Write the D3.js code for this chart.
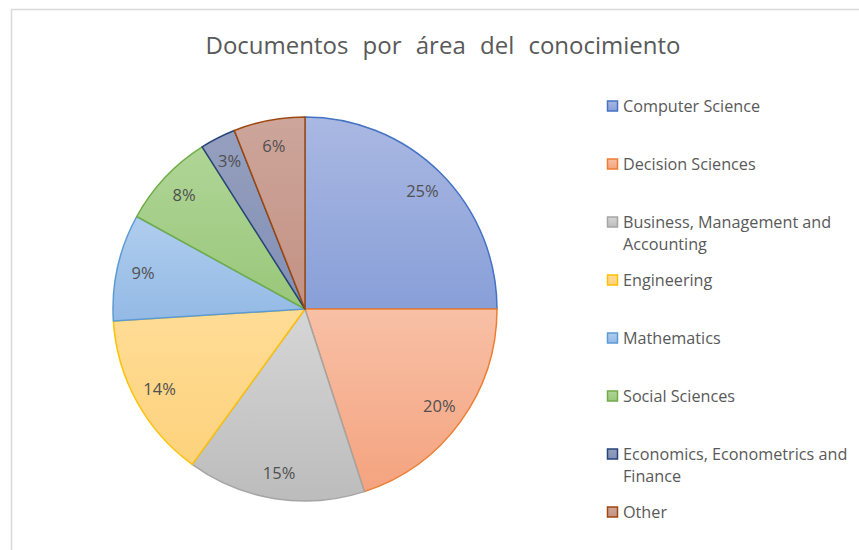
<!DOCTYPE html>
<html>
<head>
<meta charset="utf-8">
<script src="https://cdn.jsdelivr.net/npm/d3@7"></script>
<style>
  html, body { margin: 0; padding: 0; background: #fff; }
  svg { display: block; }
</style>
</head>
<body>
<div id="chart"></div>
<script>
const title = 'Documentos por área del conocimiento'
const categories = [
  'Computer Science',
  'Decision Sciences',
  'Business, Management and Accounting',
  'Engineering',
  'Mathematics',
  'Social Sciences',
  'Economics, Econometrics and Finance',
  'Other',
]
const legendLines = [
  ['Computer Science'],
  ['Decision Sciences'],
  ['Business, Management and', 'Accounting'],
  ['Engineering'],
  ['Mathematics'],
  ['Social Sciences'],
  ['Economics, Econometrics and', 'Finance'],
  ['Other'],
]
const shares = [25, 20, 15, 14, 9, 8, 3, 6]

const strokeColors = ['#4472c4', '#ed7d31', '#a5a5a5', '#ffc000', '#5b9bd5', '#70ad47', '#264478', '#9e480e']
const topColors = ['#aab8e2', '#f8c0a6', '#d6d6d6', '#ffdc96', '#b0cdee', '#b0d597', '#969fbe', '#cda59b']
const bottomColors = ['#889fd8', '#f4a37f', '#bcbcbc', '#fdd27c', '#93bae5', '#99c77a', '#8190b6', '#c39283']

const width = 859
const height = 550
const cx = 305
const cy = 309
const radius = 192
const labelRadius = 166
const fontFamily = '"Open Sans", "Noto Sans", sans-serif'

const svg = d3
  .select('#chart')
  .append('svg')
  .attr('width', width)
  .attr('height', height)
  .attr('viewBox', `0 0 ${width} ${height}`)

// chart area border (runs off the right and bottom edges)
svg
  .append('rect')
  .attr('x', 11.5)
  .attr('y', 9.5)
  .attr('width', width + 20)
  .attr('height', height + 20)
  .attr('fill', '#fff')
  .attr('stroke', '#d9d9d9')
  .attr('stroke-width', 1.5)

const defs = svg.append('defs')
categories.forEach((cat, i) => {
  const grad = defs
    .append('linearGradient')
    .attr('id', `grad-${i}`)
    .attr('x1', 0)
    .attr('y1', 0)
    .attr('x2', 0)
    .attr('y2', 1)
  grad.append('stop').attr('offset', '0%').attr('stop-color', topColors[i])
  grad.append('stop').attr('offset', '100%').attr('stop-color', bottomColors[i])
})

svg
  .append('text')
  .attr('x', 443)
  .attr('y', 54)
  .attr('text-anchor', 'middle')
  .attr('font-family', fontFamily)
  .attr('font-size', 24)
  .attr('word-spacing', 8)
  .attr('fill', '#595959')
  .text(title)

const pie = d3.pie().sort(null).value((d) => d.value)
const arcs = pie(categories.map((c, i) => ({ cat: c, value: shares[i], i })))
const arc = d3.arc().innerRadius(0).outerRadius(radius)
const labelArc = d3.arc().innerRadius(labelRadius).outerRadius(labelRadius)
const total = d3.sum(shares)

const g = svg.append('g').attr('transform', `translate(${cx}, ${cy})`)

g.selectAll('path.slice')
  .data(arcs)
  .join('path')
  .attr('class', 'slice')
  .attr('d', arc)
  .attr('fill', (d) => `url(#grad-${d.data.i})`)
  .attr('stroke', (d) => strokeColors[d.data.i])
  .attr('stroke-width', 1.5)
  .attr('stroke-linejoin', 'round')

g.selectAll('text.label')
  .data(arcs)
  .join('text')
  .attr('class', 'label')
  .attr('transform', (d) => `translate(${labelArc.centroid(d)})`)
  .attr('text-anchor', 'middle')
  .attr('dy', '0.35em')
  .attr('font-family', fontFamily)
  .attr('font-size', 16.5)
  .attr('fill', '#505050')
  .text((d) => `${Math.round((d.data.value / total) * 100)}%`)

// legend
const legendY = d3.scalePoint().domain(categories).range([106, 512])
const legend = svg
  .append('g')
  .selectAll('g')
  .data(categories)
  .join('g')
  .attr('transform', (d) => `translate(607, ${legendY(d)})`)

legend
  .append('rect')
  .attr('x', 0.5)
  .attr('y', -5)
  .attr('width', 10)
  .attr('height', 10)
  .attr('fill', (d, i) => `url(#grad-${i})`)
  .attr('stroke', (d, i) => strokeColors[i])
  .attr('stroke-width', 1.5)

legend
  .append('text')
  .attr('font-family', fontFamily)
  .attr('font-size', 16.2)
  .attr('fill', '#595959')
  .selectAll('tspan')
  .data((d, i) => legendLines[i])
  .join('tspan')
  .attr('x', 16)
  .attr('dy', (d, j) => (j === 0 ? '0.35em' : 22))
  .text((d) => d)
</script>
</body>
</html>
